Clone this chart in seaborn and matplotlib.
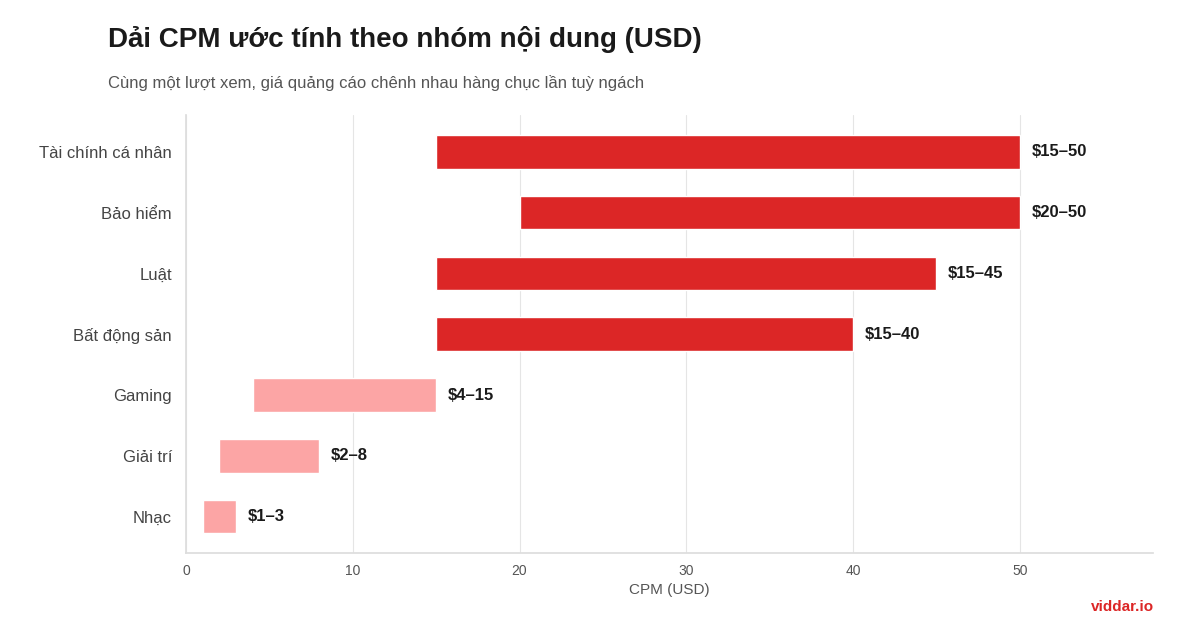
import matplotlib.pyplot as plt
import seaborn as sns

categories = ['Tài chính cá nhân', 'Bảo hiểm', 'Luật', 'Bất động sản', 'Gaming', 'Giải trí', 'Nhạc']
low = [15, 20, 15, 15, 4, 2, 1]
high = [50, 50, 45, 40, 15, 8, 3]
labels = ['$15–50', '$20–50', '$15–45', '$15–40', '$4–15', '$2–8', '$1–3']
premium = [True, True, True, True, False, False, False]

sns.set_theme(style='whitegrid')
plt.rcParams['font.family'] = ['Liberation Sans', 'DejaVu Sans']

fig = plt.figure(figsize=(12, 6.3), dpi=100)
ax = fig.add_axes([0.155, 0.122, 0.806, 0.695])

colors = ['#dc2626' if p else '#fca5a5' for p in premium]
ypos = list(range(len(categories)))
widths = [h - l for l, h in zip(low, high)]
ax.barh(ypos, widths, left=low, height=0.55, color=colors, zorder=3)
for y, h, t in zip(ypos, high, labels):
    ax.text(h + 0.7, y, t, va='center', ha='left', fontsize=12, fontweight='bold', color='#1a1a1a')

ax.set_yticks(ypos)
ax.set_yticklabels(categories, fontsize=12, color='#444444')
ax.set_ylim(len(categories) - 0.4, -0.6)
ax.set_xlim(0, 58)
ax.set_xticks([0, 10, 20, 30, 40, 50])
ax.tick_params(axis='x', labelsize=10, colors='#555555', length=4, color='#cccccc')
ax.tick_params(axis='y', length=4, color='#cccccc', pad=6)
ax.set_xlabel('CPM (USD)', fontsize=11, color='#555555')
ax.grid(axis='y', visible=False)
ax.grid(axis='x', color='#e5e5e5', linewidth=0.8)
ax.set_facecolor('white')
for s in ['top', 'right']:
    ax.spines[s].set_visible(False)
for s in ['left', 'bottom']:
    ax.spines[s].set_color('#dddddd')

fig.text(0.09, 0.925, 'Dải CPM ước tính theo nhóm nội dung (USD)', fontsize=20, fontweight='bold', color='#1a1a1a')
fig.text(0.09, 0.86, 'Cùng một lượt xem, giá quảng cáo chênh nhau hàng chục lần tuỳ ngách', fontsize=12, color='#555555')
fig.text(0.962, 0.03, 'viddar.io', fontsize=11, fontweight='bold', color='#dc2626', ha='right')

fig.savefig('out.png', dpi=100, facecolor='white')
